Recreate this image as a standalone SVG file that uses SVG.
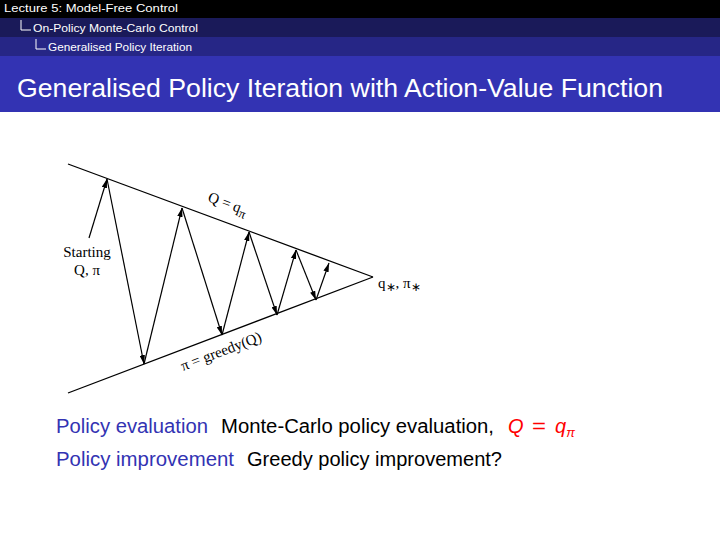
<svg xmlns="http://www.w3.org/2000/svg" width="720" height="539" viewBox="0 0 720 539">
<defs>
<style>
.hd{font-family:"Liberation Sans",Arial,sans-serif;font-size:11px;fill:#ffffff}
.title{font-family:"Liberation Sans",Arial,sans-serif;font-size:26px;fill:#ffffff}
.fig{font-family:"Liberation Serif","Times New Roman",serif;font-size:15px;fill:#000}
.body{font-family:"Liberation Sans",Arial,sans-serif;font-size:20px;fill:#000}
.blue{fill:#3333b3}
.red{fill:#ff0000}
.it{font-style:italic}
.ln{stroke:#000;stroke-width:1.3;fill:none}
.ar{stroke:#000;stroke-width:1.2;fill:none;marker-end:url(#ah)}
.tree{stroke:#ffffff;stroke-width:1;fill:none}
</style>
<marker id="ah" viewBox="0 0 10 6" refX="10" refY="3" markerWidth="9" markerHeight="5.5" markerUnits="userSpaceOnUse" orient="auto">
<path d="M0,0 L10,3 L0,6 Z" fill="#000"/>
</marker>
</defs>
<rect width="720" height="539" fill="#ffffff"/>
<g id="header">
<rect x="0" y="0" width="720" height="18" fill="#000000"/>
<rect x="0" y="18" width="720" height="19" fill="#1a1a59"/>
<rect x="0" y="37" width="720" height="19" fill="#262686"/>
<rect x="0" y="56" width="720" height="56" fill="#3333b3"/>
<text class="hd" x="4" y="12" textLength="174" lengthAdjust="spacingAndGlyphs">Lecture 5: Model-Free Control</text>
<path class="tree" d="M21,20 V30 H31"/>
<text class="hd" x="33" y="31.5" textLength="165" lengthAdjust="spacingAndGlyphs">On-Policy Monte-Carlo Control</text>
<path class="tree" d="M36,39 V49 H46"/>
<text class="hd" x="48" y="50.5" textLength="144" lengthAdjust="spacingAndGlyphs">Generalised Policy Iteration</text>
<text class="title" x="17" y="97" textLength="646" lengthAdjust="spacingAndGlyphs">Generalised Policy Iteration with Action-Value Function</text>
</g>
<g id="bounds">
<line class="ln" x1="68" y1="164" x2="373" y2="277"/>
<line class="ln" x1="68" y1="393" x2="373" y2="277"/>
</g>
<g id="connectors">
<line class="ar" x1="89" y1="238" x2="107" y2="179"/>
<line class="ar" x1="107" y1="179" x2="144" y2="364"/>
<line class="ar" x1="144" y1="364" x2="182" y2="208"/>
<line class="ar" x1="182" y1="208" x2="222" y2="335"/>
<line class="ar" x1="222" y1="335" x2="249" y2="232"/>
<line class="ar" x1="249" y1="232" x2="277" y2="315"/>
<line class="ar" x1="277" y1="315" x2="296" y2="250"/>
<line class="ar" x1="296" y1="250" x2="316" y2="300"/>
<line class="ar" x1="316" y1="300" x2="329" y2="263"/>
</g>
<g id="labels">
<text class="fig" x="87" y="257" text-anchor="middle">Starting</text>
<text class="fig" x="87" y="275" text-anchor="middle">Q, π</text>
<text class="fig" transform="translate(207,201) rotate(20.4)">Q = q<tspan dy="4" font-size="13">π</tspan></text>
<text class="fig" transform="translate(183,371) rotate(-20.8)">π = greedy(Q)</text>
<text class="fig" x="378" y="288">q<tspan dy="3" font-size="12">∗</tspan><tspan dy="-3">, π</tspan><tspan dy="3" font-size="12">∗</tspan></text>
</g>
<g id="text">
<text class="body blue" x="56" y="433" textLength="152" lengthAdjust="spacingAndGlyphs">Policy evaluation</text>
<text class="body" x="221" y="433" textLength="273" lengthAdjust="spacingAndGlyphs">Monte-Carlo policy evaluation,</text>
<text class="body red it" x="508" y="433">Q</text>
<text class="body red" x="532" y="433" textLength="14" lengthAdjust="spacingAndGlyphs">=</text>
<text class="body red it" x="555" y="433">q<tspan dy="4" font-size="13">π</tspan></text>
<text class="body blue" x="56" y="466" textLength="178" lengthAdjust="spacingAndGlyphs">Policy improvement</text>
<text class="body" x="247" y="466" textLength="255" lengthAdjust="spacingAndGlyphs">Greedy policy improvement?</text>
</g>
</svg>
